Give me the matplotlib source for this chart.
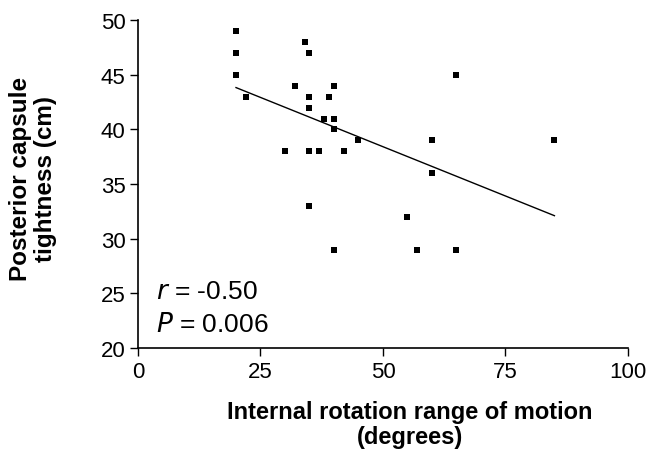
import numpy as np
import matplotlib
matplotlib.use("Agg")
import matplotlib.pyplot as plt

plt.rcParams['font.family'] = ['Liberation Sans', 'DejaVu Sans']

# internal rotation ROM (degrees) and posterior capsule tightness (cm)
ir_rom = [20, 20, 20, 22, 34, 35, 32, 40, 35, 39, 35, 38, 40, 40,
          45, 60, 85, 30, 35, 37, 42, 60, 35, 55, 40, 57, 65, 65]
tightness = [49, 47, 45, 43, 48, 47, 44, 44, 43, 43, 42, 41, 41, 40,
             39, 39, 39, 38, 38, 38, 38, 36, 33, 32, 29, 29, 29, 45]

x_ticks = [0, 25, 50, 75, 100]
y_ticks = [20, 25, 30, 35, 40, 45, 50]

x = np.array(ir_rom, dtype=float)
y = np.array(tightness, dtype=float)
slope, intercept = np.polyfit(x, y, 1)
xl = np.array([x.min(), x.max()])

fig = plt.figure(figsize=(6.48, 4.6), dpi=100)
ax = fig.add_axes([0.213, 0.241, 0.756, 0.713])

ax.scatter(x, y, marker='s', s=20, color='black', linewidths=0, zorder=3)
ax.plot(xl, slope * xl + intercept, color='black', lw=1.0)

ax.set_xlim(0, 100)
ax.set_ylim(20, 50)
ax.set_xticks(x_ticks)
ax.set_yticks(y_ticks)
ax.tick_params(labelsize=16, length=6, width=1, direction='out', pad=3)
for s in ['top', 'right']:
    ax.spines[s].set_visible(False)
for s in ['left', 'bottom']:
    ax.spines[s].set_linewidth(1.2)

# axis titles placed in figure coords
fig.text(0.633, 0.076, 'Internal rotation range of motion\n(degrees)',
         fontsize=17, fontweight='bold', ha='center', va='center',
         multialignment='center', linespacing=1.15)
fig.text(0.051, 0.61, 'Posterior capsule\ntightness (cm)', rotation=90,
         fontsize=17.5, fontweight='bold', ha='center', va='center',
         multialignment='center', linespacing=1.1)

ax.text(0.037, 0.152, r'$\it{r}$ = -0.50', transform=ax.transAxes,
        fontsize=19, va='baseline')
ax.text(0.037, 0.052, r'$\it{P}$ = 0.006', transform=ax.transAxes,
        fontsize=19, va='baseline')

fig.savefig('out.png', dpi=100)
